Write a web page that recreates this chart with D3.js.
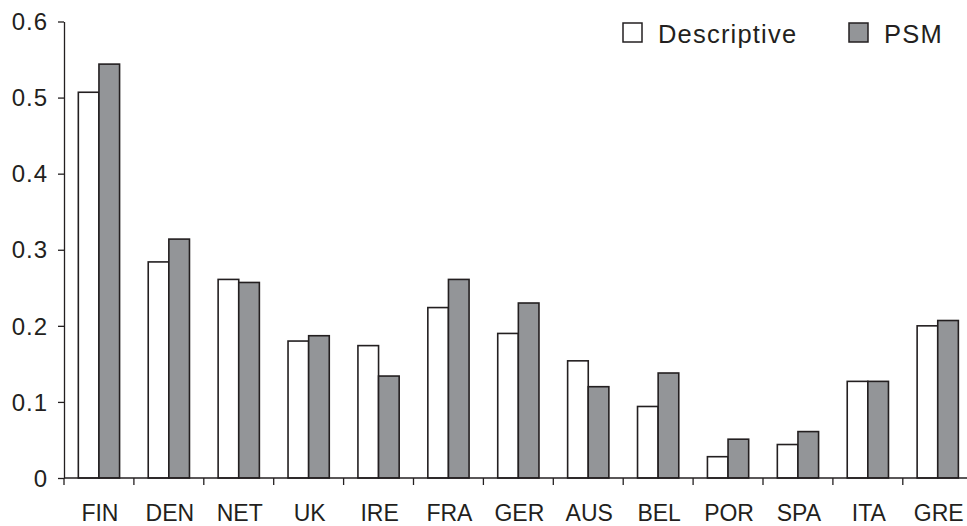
<!DOCTYPE html>
<html>
<head>
<meta charset="utf-8">
<script src="https://cdn.jsdelivr.net/npm/d3@7"></script>
<style>
  html, body { margin: 0; padding: 0; background: #fff; }
  svg { display: block; font-family: "Liberation Sans", Arial, Helvetica, sans-serif; }
</style>
</head>
<body>
<svg id="chart" width="967" height="526"></svg>
<script>
const categories = ["FIN", "DEN", "NET", "UK", "IRE", "FRA", "GER", "AUS", "BEL", "POR", "SPA", "ITA", "GRE"];
const descriptive = [0.507, 0.284, 0.261, 0.180, 0.174, 0.224, 0.190, 0.154, 0.094, 0.028, 0.044, 0.127, 0.200];
const psm = [0.544, 0.314, 0.257, 0.187, 0.134, 0.261, 0.230, 0.120, 0.138, 0.051, 0.061, 0.127, 0.207];
const seriesNames = ["Descriptive", "PSM"];
const yTicks = [0, 0.1, 0.2, 0.3, 0.4, 0.5, 0.6];

const seriesColors = ["#ffffff", "#939598"];
const strokeCol = "#231f20";

const svg = d3.select("#chart");
const plotLeft = 64, plotRight = 972.7, plotTop = 21.5, plotBottom = 478;

const x0 = d3.scaleBand().domain(categories).range([plotLeft, plotRight]).paddingInner(0.41).paddingOuter(0.205);
const x1 = d3.scaleBand().domain(seriesNames).range([0, x0.bandwidth()]).padding(0);
const y = d3.scaleLinear().domain([0, 0.6]).range([plotBottom, plotTop]);

const data = categories.map((c, i) => ({ cat: c, values: [descriptive[i], psm[i]] }));

// bars
const g = svg.append("g");
data.forEach(d => {
  d.values.forEach((v, j) => {
    g.append("rect")
      .attr("x", x0(d.cat) + x1(seriesNames[j]))
      .attr("y", y(v))
      .attr("width", x1.bandwidth())
      .attr("height", y(0) - y(v))
      .attr("fill", seriesColors[j])
      .attr("stroke", strokeCol)
      .attr("stroke-width", 1.6);
  });
});

// y axis
const yAxis = d3.axisLeft(y).tickValues(yTicks).tickSize(6).tickSizeOuter(0).tickPadding(10)
  .tickFormat(d => d === 0 ? "0" : d3.format(".1f")(d));
const ya = svg.append("g").attr("transform", `translate(${plotLeft},0)`).call(yAxis);
ya.select(".domain").attr("stroke", strokeCol).attr("stroke-width", 1.3);
ya.selectAll(".tick line").attr("stroke", strokeCol).attr("stroke-width", 1.3);
ya.selectAll(".tick text").attr("font-size", 24).attr("fill", "#231f20")
  .attr("font-family", "'Liberation Sans', Arial, sans-serif").attr("letter-spacing", "1px").attr("dy", "0.34em");

// x axis line
svg.append("line").attr("x1", plotLeft).attr("x2", 967).attr("y1", plotBottom).attr("y2", plotBottom)
  .attr("stroke", strokeCol).attr("stroke-width", 1.3);
const step = x0.step();
const boundaries = d3.range(categories.length + 1).map(i => x0.range()[0] + i * step);
svg.selectAll(".xtick").data(boundaries).enter().append("line")
  .attr("x1", d => d).attr("x2", d => d).attr("y1", plotBottom).attr("y2", plotBottom + 7)
  .attr("stroke", strokeCol).attr("stroke-width", 1.3);
svg.selectAll(".xlabel").data(categories).enter().append("text")
  .attr("x", d => x0(d) + x0.bandwidth() / 2 + 1)
  .attr("y", 521)
  .attr("text-anchor", "middle")
  .attr("font-size", 23)
  .attr("fill", "#231f20")
  .text(d => d);

// legend
const legendX = [623, 849];
const lg = svg.append("g");
seriesNames.forEach((s, j) => {
  lg.append("rect").attr("x", legendX[j]).attr("y", 23).attr("width", 19).attr("height", 19)
    .attr("fill", seriesColors[j]).attr("stroke", strokeCol).attr("stroke-width", 1.5);
  lg.append("text").attr("x", legendX[j] + 35).attr("y", 42.5)
    .attr("font-size", 25.5).attr("letter-spacing", "1.2px").attr("fill", "#231f20").text(s);
});
</script>
</body>
</html>
